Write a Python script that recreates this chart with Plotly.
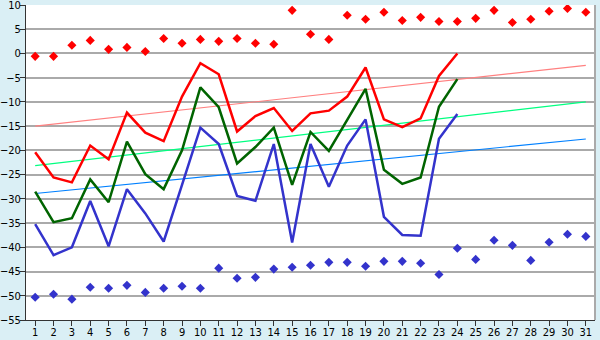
import plotly.graph_objects as go

days = list(range(1, 32))
line_days = list(range(1, 25))

max_marks = [-0.6, -0.6, 1.7, 2.7, 0.85, 1.25, 0.4, 3.1, 2.1, 2.9,
             2.5, 3.1, 2.1, 1.9, 8.9, 3.95, 2.9, 7.9, 7.05, 8.5,
             6.8, 7.45, 6.6, 6.6, 7.25, 8.9, 6.4, 7.05, 8.7, 9.3, 8.5]
min_marks = [-50.3, -49.7, -50.7, -48.25, -48.45, -47.85, -49.3, -48.45, -48.05, -48.45,
             -44.3, -46.4, -46.2, -44.5, -44.1, -43.7, -43.1, -43.1, -43.9, -42.9,
             -42.9, -43.3, -45.6, -40.2, -42.5, -38.55, -39.6, -42.7, -38.95, -37.3, -37.75]

red_line = [-20.4, -25.6, -26.6, -19.0, -21.85, -12.2, -16.35, -18.1, -8.9, -2.0,
            -4.3, -16.1, -12.9, -11.25, -16.0, -12.35, -11.8, -8.9, -2.9, -13.6,
            -15.2, -13.4, -4.65, 0.0]
green_line = [-28.5, -34.8, -34.0, -26.0, -30.7, -18.2, -24.9, -28.0, -20.0, -7.0,
              -11.1, -22.7, -19.3, -15.3, -27.1, -16.2, -20.1, -13.7, -7.3, -24.0,
              -26.9, -25.6, -11.0, -5.3]
blue_line = [-35.2, -41.6, -40.0, -30.45, -39.8, -28.0, -33.0, -38.8, -27.1, -15.3,
             -18.7, -29.4, -30.4, -18.7, -39.0, -18.7, -27.5, -19.0, -13.6, -33.7,
             -37.45, -37.6, -17.6, -12.5]

trend_x = [1, 31]
trend_red = [-15.0, -2.45]
trend_green = [-23.15, -10.0]
trend_blue = [-28.9, -17.65]

fig = go.Figure()
fig.add_trace(go.Scatter(x=trend_x, y=trend_red, mode="lines", line=dict(color="#ff8080", width=1.2)))
fig.add_trace(go.Scatter(x=trend_x, y=trend_green, mode="lines", line=dict(color="#00ff80", width=1.2)))
fig.add_trace(go.Scatter(x=trend_x, y=trend_blue, mode="lines", line=dict(color="#0080ff", width=1.2)))
fig.add_trace(go.Scatter(x=line_days, y=red_line, mode="lines", line=dict(color="#ff0000", width=2.5)))
fig.add_trace(go.Scatter(x=line_days, y=green_line, mode="lines", line=dict(color="#006400", width=2.5)))
fig.add_trace(go.Scatter(x=line_days, y=blue_line, mode="lines", line=dict(color="#3333cc", width=2.5)))
fig.add_trace(go.Scatter(x=days, y=max_marks, mode="markers",
                         marker=dict(symbol="diamond", size=7, color="#ff0000")))
fig.add_trace(go.Scatter(x=days, y=min_marks, mode="markers",
                         marker=dict(symbol="diamond", size=7, color="#3333cc")))

fig.update_layout(
    width=600, height=340,
    margin=dict(l=26, r=5, t=5, b=20),
    paper_bgcolor="#daeff5",
    plot_bgcolor="#ffffff",
    showlegend=False,
    font=dict(family="DejaVu Sans Condensed, Liberation Sans, sans-serif", size=11, color="#000000"),
)
fig.update_xaxes(
    range=[0.5, 31.5], tickmode="array", tickvals=days, ticktext=[str(d) for d in days],
    showgrid=False, zeroline=False, showline=True, linecolor="#333333", linewidth=1,
    ticks="outside", ticklen=5, tickcolor="#333333", mirror=False,
    ticklabeloverflow="allow", automargin=False, ticklabelstandoff=-3,
)
fig.update_yaxes(
    range=[-55, 10], dtick=5, tick0=0, showgrid=True, gridcolor="#aaaaaa", gridwidth=1.5,
    zeroline=False, showline=True, linecolor="#333333", linewidth=1,
    ticks="outside", ticklen=5, tickcolor="#333333",
    ticklabeloverflow="allow", automargin=False, ticklabelstandoff=-3,
)
fig.add_shape(type="line", xref="paper", yref="paper", x0=1, x1=1, y0=0, y1=1,
              line=dict(color="#aaaaaa", width=2))

fig.write_html("out.html")
